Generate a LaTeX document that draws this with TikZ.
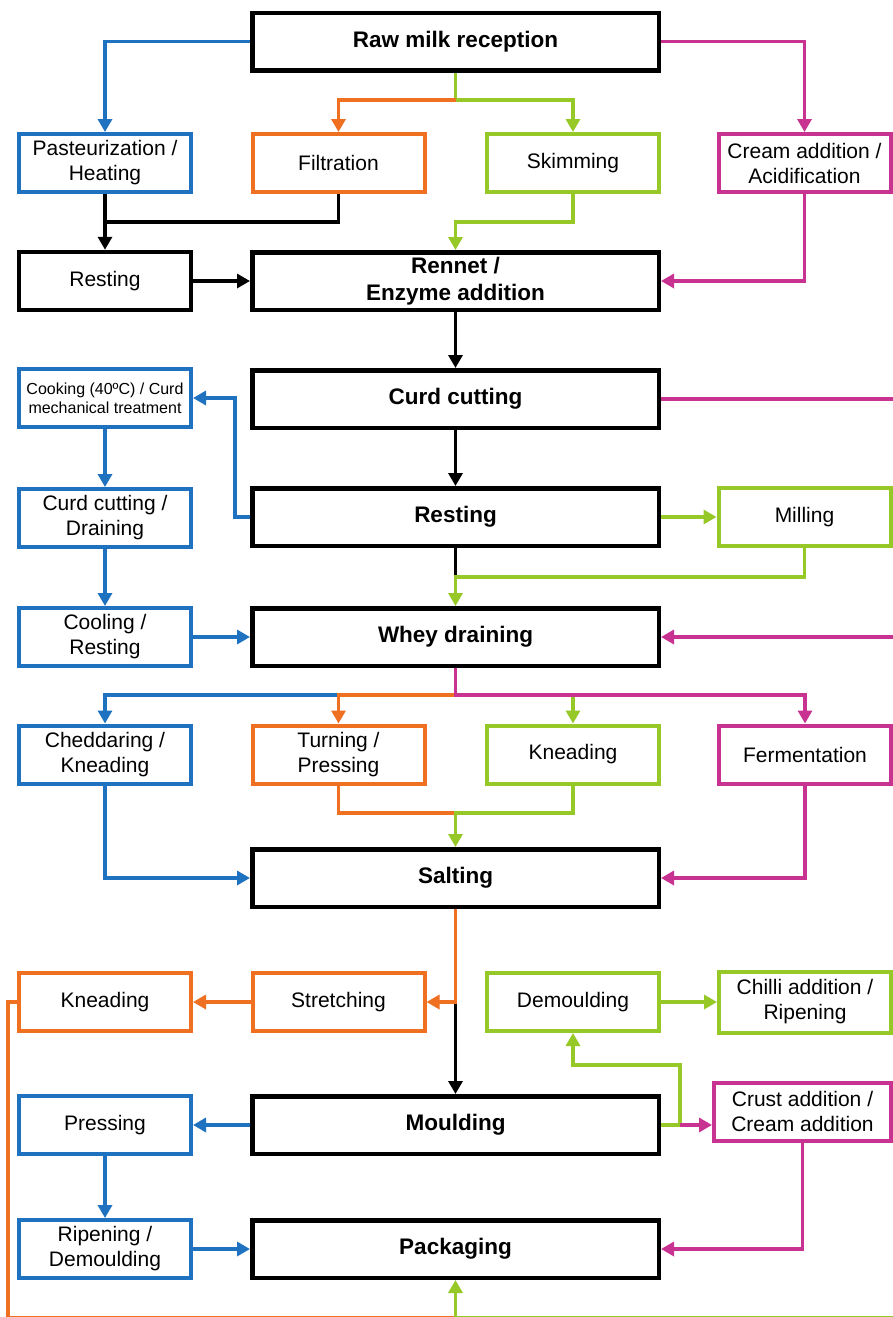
\documentclass[tikz,border=0pt]{standalone}
\usepackage{fontspec}
\setmainfont{Liberation Sans}
\usetikzlibrary{arrows.meta}

\definecolor{cblue}{RGB}{31,114,192}
\definecolor{corange}{RGB}{240,112,34}
\definecolor{cgreen}{RGB}{150,200,40}
\definecolor{cpink}{RGB}{200,50,145}

\begin{document}
\begin{tikzpicture}[x=1pt,y=-1pt,
  mainbox/.style={draw=black, line width=4.5pt, minimum width=406.5pt, minimum height=57.5pt,
    inner sep=0pt, align=center, font=\bfseries\fontsize{22.5}{27}\selectfont},
  sidebox/.style={line width=4pt, minimum width=172pt, minimum height=58pt,
    inner sep=0pt, align=center, font=\fontsize{21}{25}\selectfont},
  bluebox/.style={sidebox, draw=cblue},
  orbox/.style={sidebox, draw=corange},
  grbox/.style={sidebox, draw=cgreen},
  pkbox/.style={sidebox, draw=cpink},
  blkbox/.style={sidebox, draw=black, line width=4.5pt},
  line/.style={line width=3.5pt},
  conn/.style={line, -{Triangle[length=13pt,width=14pt]}}
]
\fill[white] (0,0) rectangle (893,1317);
\useasboundingbox (0,0) rectangle (893,1317);

% ---- process steps ----
\node[mainbox] (raw) at (455.5,41.5) {Raw milk reception};
\node[bluebox] (past) at (105,163) {Pasteurization /\\Heating};
\node[orbox] (filt) at (338.5,163) {Filtration};
\node[grbox] (skim) at (573,163) {Skimming};
\node[pkbox] (cream) at (804.5,163) {Cream addition /\\Acidification};

\node[blkbox] (rest1) at (105,281) {Resting};
\node[mainbox] (rennet) at (455.5,281) {Rennet /\\Enzyme addition};

\node[bluebox, font=\fontsize{16}{19}\selectfont] (cook) at (105,398) {Cooking (40ºC) / Curd\\mechanical treatment};
\node[mainbox] (cut) at (455.5,399) {Curd cutting};

\node[bluebox] (cutdr) at (105,518) {Curd cutting /\\Draining};
\node[mainbox] (rest2) at (455.5,517) {Resting};
\node[grbox] (mill) at (804.5,517) {Milling};

\node[bluebox] (cool) at (105,637) {Cooling /\\Resting};
\node[mainbox] (whey) at (455.5,637) {Whey draining};

\node[bluebox] (chedd) at (105,754.5) {Cheddaring /\\Kneading};
\node[orbox] (turn) at (338.5,754.5) {Turning /\\Pressing};
\node[grbox] (knead1) at (573,754.5) {Kneading};
\node[pkbox] (ferm) at (805,754.5) {Fermentation};

\node[mainbox] (salt) at (455.5,878) {Salting};

\node[orbox] (knead2) at (105,1002) {Kneading};
\node[orbox] (stretch) at (338.5,1002) {Stretching};
\node[grbox] (demould) at (573,1002) {Demoulding};
\node[grbox, minimum height=61pt] (chilli) at (805,1002) {Chilli addition /\\Ripening};

\node[pkbox, minimum width=177pt] (crust) at (802.5,1111.5) {Crust addition /\\Cream addition};
\node[mainbox] (mould) at (455.5,1125) {Moulding};
\node[bluebox] (press) at (105,1125) {Pressing};

\node[mainbox] (pack) at (455.5,1249) {Packaging};
\node[bluebox] (ripen) at (105,1249) {Ripening /\\Demoulding};

% ---- junction points ----
\coordinate (j1) at (455.5,100);
\coordinate (j2) at (105,222);
\coordinate (j4) at (455.5,577);
\coordinate (j5) at (455.5,695);
\coordinate (j7) at (455.5,813);
\coordinate (j8) at (455.5,1002);
\coordinate (j9) at (455.5,1317.5);
\coordinate (j10) at (680,1125);

% ---- raw milk branches ----
\draw[conn, cblue] (raw.west) -| (past.north);
\draw[conn, cgreen] (raw.south) -- (j1) -| (skim.north);
\draw[conn, corange] (j1) -| (filt.north);
\draw[conn, cpink] (raw.east) -| (cream.north);

% ---- towards rennet ----
\draw[conn] (past.south) -- (rest1.north);
\draw[line] (filt.south) |- (j2);
\draw[conn, cgreen] (skim.south) -- ++(0,28) -| (rennet.north);
\draw[conn, cpink] (cream.south) |- (rennet.east);
\draw[conn] (rest1) -- (rennet);

% ---- coagulation and cutting ----
\draw[conn] (rennet) -- (cut);
\draw[conn, cpink] (cut.east) -- ++(243,0) |- (whey.east);
\draw[conn] (cut) -- (rest2);
\draw[conn, cblue] (rest2.west) -- ++(-15,0) |- (cook.east);
\draw[conn, cgreen] (rest2) -- (mill);
\draw[line] (rest2.south) -- (j4);
\draw[conn, cgreen] (mill.south) |- (j4) -- (whey.north);
\draw[conn, cblue] (cook) -- (cutdr);
\draw[conn, cblue] (cutdr) -- (cool);
\draw[conn, cblue] (cool) -- (whey);

% ---- whey draining branches ----
\draw[conn, cblue] (j5) -| (chedd.north);
\draw[conn, corange] (j5) -| (turn.north);
\draw[conn, cgreen] (j5) -| (knead1.north);
\draw[conn, cpink] (whey.south) -- (j5) -| (ferm.north);

% ---- towards salting ----
\draw[conn, cblue] (chedd.south) |- (salt.west);
\draw[line, corange] (turn.south) |- (j7);
\draw[conn, cgreen] (knead1.south) |- (j7) -- (salt.north);
\draw[conn, cpink] (ferm.south) |- (salt.east);

% ---- after salting ----
\draw[conn] (j8) -- (mould.north);
\draw[conn, corange] (salt.south) -- (j8) -- (stretch.east);
\draw[conn, corange] (stretch) -- (knead2);
\draw[line, corange] (knead2.west) -- ++(-9,0) |- (j9);
\draw[conn, cgreen] (chilli.east) -- ++(20,0) |- (j9) -- (pack.south);
\draw[conn, cgreen] (demould) -- (chilli);

% ---- moulding ----
\draw[conn, cgreen] (mould.east) -- (j10) -- ++(0,-60) -| (demould.south);
\draw[conn, cpink] (j10) -- (j10 -| crust.west);
\draw[conn, cpink] (crust.south) |- (pack.east);
\draw[conn, cblue] (mould) -- (press);
\draw[conn, cblue] (press) -- (ripen);
\draw[conn, cblue] (ripen) -- (pack);
\end{tikzpicture}
\end{document}
